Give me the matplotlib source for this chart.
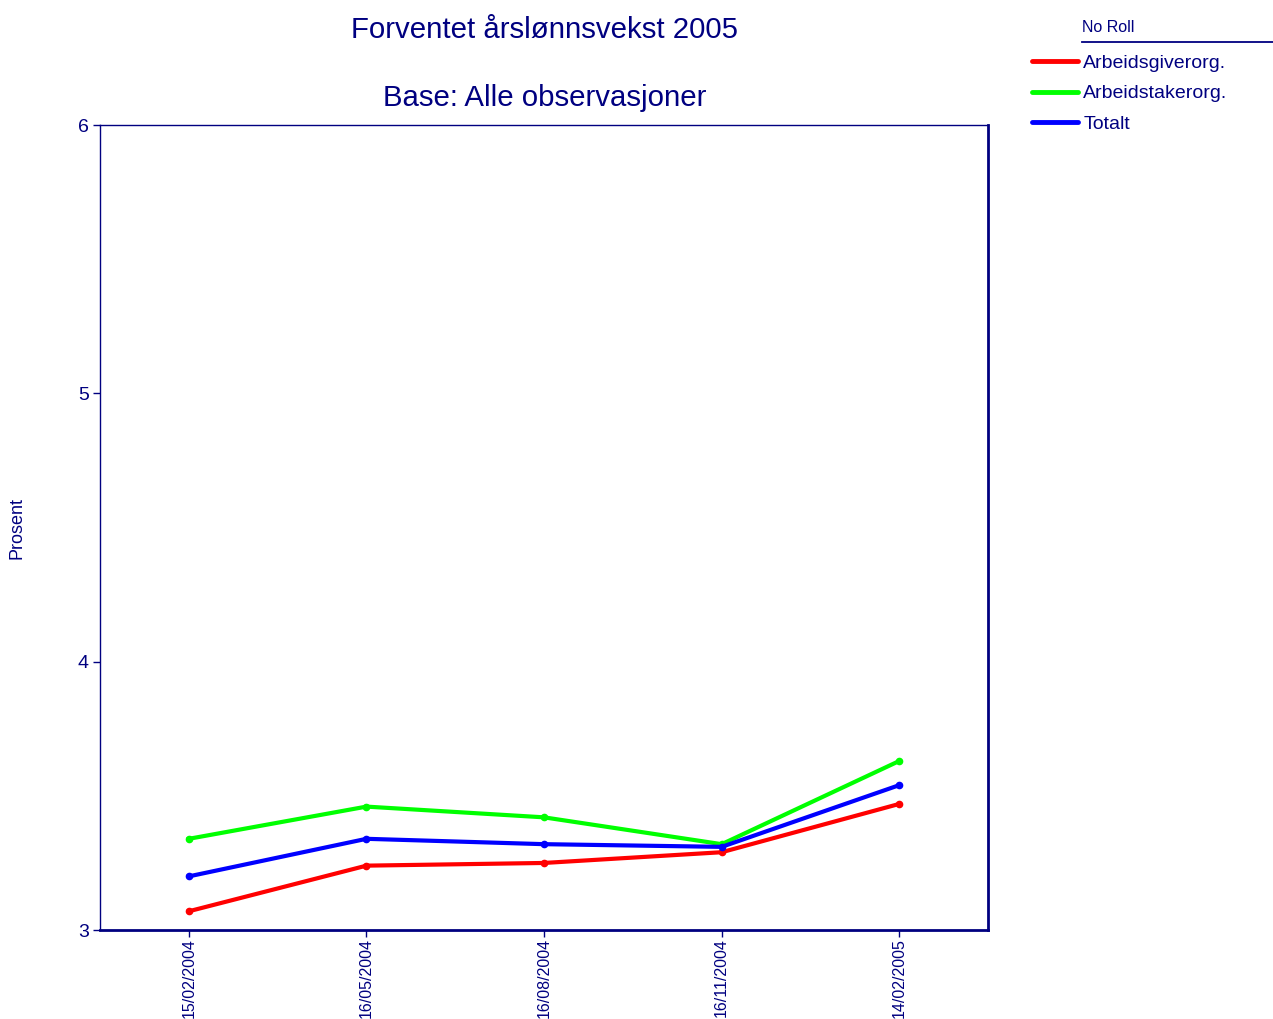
import matplotlib

matplotlib.use("Agg")

import matplotlib.pyplot as plt  # noqa: E402
from matplotlib.lines import Line2D  # noqa: E402

NAVY = "#000080"

dates = ["15/02/2004", "16/05/2004", "16/08/2004", "16/11/2004", "14/02/2005"]
arbeidsgiver = [3.07, 3.24, 3.25, 3.29, 3.47]
arbeidstaker = [3.34, 3.46, 3.42, 3.32, 3.63]
totalt = [3.20, 3.34, 3.32, 3.31, 3.54]

series = [
    ("Arbeidsgiverorg.", arbeidsgiver, "#ff0000"),
    ("Arbeidstakerorg.", arbeidstaker, "#00ff00"),
    ("Totalt", totalt, "#0000ff"),
]

plt.rcParams["font.family"] = ["Liberation Sans", "DejaVu Sans"]

fig = plt.figure(figsize=(12.73, 10.19), dpi=100)
ax = fig.add_axes([0.0786, 0.0873, 0.6976, 0.79])

x = list(range(len(dates)))
handles = []
for label, values, color in series:
    ax.plot(x, values, color=color, lw=3, marker="o", ms=4.5,
            solid_joinstyle="round")
    handles.append(Line2D([], [], color=color, lw=3.5,
                          solid_capstyle="round", label=label))

ax.set_xlim(-0.5, len(dates) - 0.5)
ax.set_ylim(3, 6)
ax.set_yticks([3, 4, 5, 6])
ax.set_xticks(x)
ax.set_xticklabels(dates, rotation=90, fontsize=11.5, color=NAVY)
ax.tick_params(axis="y", labelsize=14, labelcolor=NAVY, pad=3)
ax.tick_params(axis="x", pad=1)
ax.tick_params(colors=NAVY, length=5, width=1, direction="out")
ax.set_ylabel("Prosent", fontsize=13, color=NAVY, labelpad=38)

for side in ["left", "top"]:
    ax.spines[side].set_color(NAVY)
    ax.spines[side].set_linewidth(1)
for side in ["right", "bottom"]:
    ax.spines[side].set_color(NAVY)
    ax.spines[side].set_linewidth(2)

fig.text(0.428, 0.971, "Forventet årslønnsvekst 2005", fontsize=21.2,
         color=NAVY, ha="center", va="center")
fig.text(0.428, 0.904, "Base: Alle observasjoner", fontsize=21.2,
         color=NAVY, ha="center", va="center")

leg = fig.legend(handles=handles, loc="upper left",
                 bbox_to_anchor=(0.8105, 0.947), frameon=False,
                 fontsize=14, handlelength=2.4, handletextpad=0.25,
                 labelspacing=0.68, borderaxespad=0, borderpad=0)
for t in leg.get_texts():
    t.set_color(NAVY)

fig.text(0.85, 0.973, "No Roll", fontsize=11.5, color=NAVY,
         ha="left", va="center")
fig.add_artist(Line2D([0.85, 1.0], [0.9588, 0.9588], color=NAVY, lw=1.3,
                      transform=fig.transFigure))

fig.savefig("out.png", dpi=100)
